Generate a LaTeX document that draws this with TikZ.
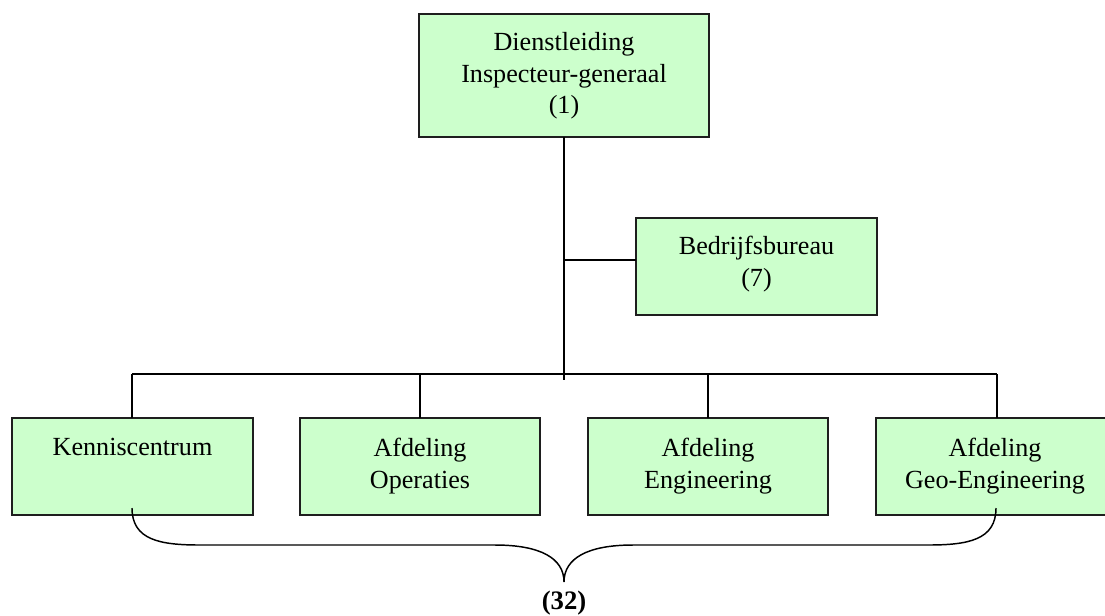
\documentclass[tikz,border=0pt]{standalone}
\usepackage{fontspec}
\setmainfont{Liberation Serif}
\definecolor{boxfill}{RGB}{204,255,204}
\definecolor{boxline}{RGB}{30,30,30}
\tikzset{
  orgbox/.style={draw=boxline, line width=1.4pt, fill=boxfill, inner sep=0pt, outer sep=0pt},
  orgtext/.style={anchor=north, align=center, inner sep=0pt, font=\fontsize{19.6}{23.8}\selectfont},
  link/.style={line width=1.1pt, black},
}
\begin{document}
\begin{tikzpicture}[x=0.75pt, y=-0.75pt]
\path[use as bounding box, clip] (0,0) rectangle (1105,615);
% boxes
\node[orgbox, minimum width=290*0.75pt, minimum height=123*0.75pt] (top) at (564,75.5) {};
\node[orgbox, minimum width=241*0.75pt, minimum height=97*0.75pt] (bb) at (756.5,266.5) {};
\node[orgbox, minimum width=241*0.75pt, minimum height=97*0.75pt] (kc) at (132.5,466.5) {};
\node[orgbox, minimum width=240*0.75pt, minimum height=97*0.75pt] (ops) at (420,466.5) {};
\node[orgbox, minimum width=240*0.75pt, minimum height=97*0.75pt] (eng) at (708,466.5) {};
\node[orgbox, minimum width=242*0.75pt, minimum height=97*0.75pt] (geo) at (997,466.5) {};
% texts
\node[orgtext] (toptxt) at (564,32) {Dienstleiding\\Inspecteur-generaal\\(1)};
\node[orgtext] (bbtxt) at (756.5,236) {Bedrijfsbureau\\(7)};
\node[orgtext] (kctxt) at (132.5,438) {Kenniscentrum};
\node[orgtext] (opstxt) at (420,438) {Afdeling\\Operaties};
\node[orgtext] (engtxt) at (708,438) {Afdeling\\Engineering};
\node[orgtext] (geotxt) at (995,438) {Afdeling\\Geo-Engineering};
% connectors
\coordinate (trunkend) at (564,380);
\coordinate (branch) at (564,260);
\coordinate (busl) at (132,374);
\coordinate (busr) at (997,374);
\draw[link] (top.south) -- (trunkend);
\draw[link] (branch) -- (bb.west |- branch);
\draw[link] (busl) -- (busr);
\draw[link] (busl) -- (kc.north -| busl);
\draw[link] (ops.north |- busl) -- (ops.north);
\draw[link] (eng.north |- busl) -- (eng.north);
\draw[link] (busr) -- (geo.north -| busr);
% brace
\coordinate (bl) at (132,508);
\coordinate (br) at (996,508);
\coordinate (tip) at (564,582);
\draw[link] (bl) .. controls (132,540) and (160,545) .. (200,545) -- (495,545)
  .. controls (540,545) and (564,558) .. (tip)
  .. controls (564,558) and (588,545) .. (633,545) -- (928,545)
  .. controls (968,545) and (996,540) .. (br);
\node[font=\fontsize{20}{24}\bfseries, inner sep=0pt] (total) at (564,603) {(32)};
\end{tikzpicture}
\end{document}
